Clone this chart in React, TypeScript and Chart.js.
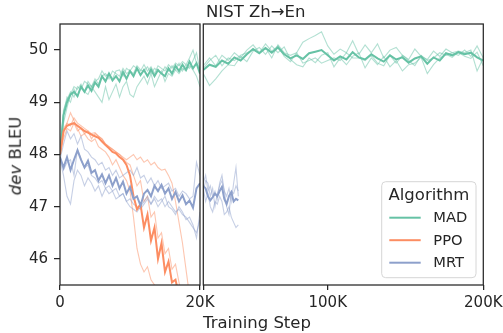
import React, { useEffect, useRef } from 'react';
import { Chart, registerables } from 'chart.js';

Chart.register(...registerables);

const FONT = "'DejaVu Sans', sans-serif";
const INK = '#262626';

// ---------- legend / series ----------
const algorithms = ['MAD', 'PPO', 'MRT'];
const colors = ['#66c2a5', '#fc8d62', '#8da0cb'];

// ---------- axes ----------
const yTicks = [46, 47, 48, 49, 50];
const yTickLabels = ['46', '47', '48', '49', '50'];
const yMin = 45.5;
const yMax = 50.5;
const xTicksLeft = [0, 20000];
const xTickLabelsLeft = ['0', '20K'];
const xTicksRight = [20000, 100000, 200000];
const xTickLabelsRight = ['', '100K', '200K'];

// ---------- steps ----------
const stepsLeft = [0, 500, 1000, 1500, 2000, 2500, 3000, 3500, 4000, 4500, 5000, 5500, 6000, 6500, 7000, 7500, 8000, 8500, 9000, 9500, 10000, 10500, 11000, 11500, 12000, 12500, 13000, 13500, 14000, 14500, 15000, 15500, 16000, 16500, 17000, 17500, 18000, 18500, 19000, 19500, 20000];
const stepsRight = [20000, 24000, 28000, 32000, 36000, 40000, 44000, 48000, 52000, 56000, 60000, 64000, 68000, 72000, 76000, 80000, 84000, 88000, 92000, 96000, 100000, 104000, 108000, 112000, 116000, 120000, 124000, 128000, 132000, 136000, 140000, 144000, 148000, 152000, 156000, 160000, 164000, 168000, 172000, 176000, 180000, 184000, 188000, 192000, 196000, 200000];
const stepsMrtRight = [20000, 21500, 23000, 24500, 26000, 27500, 29000, 30500, 32000, 33500, 35000, 36500, 38000, 39500, 41000, 42500];

// ---------- MAD ----------
const madMeanLeft = [48.0, 48.75, 49.0, 49.15, 49.2, 49.12, 49.3, 49.2, 49.32, 49.22, 49.38, 49.3, 49.5, 49.4, 49.55, 49.42, 49.5, 49.4, 49.58, 49.45, 49.6, 49.5, 49.65, 49.52, 49.62, 49.5, 49.63, 49.5, 49.62, 49.55, 49.5, 49.65, 49.55, 49.7, 49.6, 49.72, 49.62, 49.78, 49.65, 49.75, 49.55];
const madRun1Left = [48.0, 48.6, 48.9, 49.15, 49.3, 49.25, 49.35, 49.2, 49.4, 49.3, 49.45, 49.35, 49.5, 49.55, 49.45, 49.6, 49.55, 49.5, 49.65, 49.55, 49.6, 49.7, 49.65, 49.6, 49.72, 49.6, 49.68, 49.55, 49.7, 49.65, 49.6, 49.72, 49.65, 49.75, 49.7, 49.78, 49.72, 49.85, 50.0, 49.75, 49.65];
const madRun2Left = [48.0, 48.8, 49.1, 49.0, 49.25, 49.1, 49.3, 49.2, 49.15, 49.3, 49.2, 49.1, 49.0, 49.3, 49.05, 49.2, 49.35, 49.1, 49.3, 49.4, 49.15, 49.1, 49.3, 49.4, 49.5, 49.35, 49.55, 49.3, 49.45, 49.6, 49.4, 49.55, 49.5, 49.62, 49.55, 49.65, 49.6, 49.7, 49.62, 49.5, 49.3];
const madRun3Left = [48.0, 48.85, 49.05, 49.2, 49.1, 49.3, 49.25, 49.4, 49.35, 49.3, 49.4, 49.45, 49.6, 49.5, 49.55, 49.45, 49.6, 49.62, 49.5, 49.65, 49.6, 49.55, 49.7, 49.62, 49.6, 49.68, 49.55, 49.65, 49.6, 49.55, 49.68, 49.6, 49.7, 49.62, 49.75, 49.6, 49.72, 49.65, 49.8, 49.95, 49.6];
const madMeanRight = [49.62, 49.72, 49.68, 49.8, 49.74, 49.86, 49.8, 49.92, 50.02, 49.94, 50.04, 49.95, 50.05, 49.92, 49.84, 49.9, 49.83, 49.94, 49.97, 50.0, 49.9, 49.8, 49.88, 49.82, 49.96, 49.86, 49.82, 49.92, 49.84, 49.78, 49.9, 49.82, 49.86, 49.76, 49.84, 49.88, 49.74, 49.86, 49.8, 49.94, 49.9, 49.96, 49.92, 49.95, 49.86, 49.8];
const madRun1Right = [49.7, 49.85, 49.7, 49.9, 49.8, 49.95, 49.85, 50.0, 50.1, 49.95, 50.12, 49.98, 50.08, 49.88, 49.78, 49.95, 50.15, 50.22, 50.28, 50.35, 50.08, 49.92, 50.02, 49.95, 50.18, 49.92, 50.1, 49.95, 50.12, 49.85, 50.0, 50.05, 49.9, 49.82, 50.02, 49.88, 49.82, 49.98, 49.88, 50.02, 49.95, 49.9, 50.0, 49.88, 50.08, 49.85];
const madRun2Right = [49.55, 49.32, 49.45, 49.6, 49.72, 49.7, 49.88, 49.78, 49.98, 50.05, 49.92, 50.08, 49.95, 50.06, 49.82, 49.72, 49.68, 49.85, 49.76, 49.9, 49.95, 49.68, 49.85, 49.72, 49.88, 49.95, 49.66, 49.85, 49.72, 49.88, 49.68, 49.8, 49.6, 49.72, 49.75, 49.86, 49.55, 49.72, 49.85, 49.92, 49.86, 49.96, 49.88, 49.84, 49.96, 49.7];
const madRun3Right = [49.65, 49.8, 49.9, 49.7, 49.85, 49.8, 49.9, 49.95, 50.0, 49.95, 50.05, 49.85, 50.1, 49.95, 49.9, 49.95, 49.75, 49.8, 49.85, 49.75, 49.8, 49.85, 49.8, 49.95, 49.85, 49.85, 49.8, 49.9, 49.75, 49.7, 49.9, 49.75, 49.9, 49.8, 49.7, 49.9, 49.8, 49.85, 49.95, 49.9, 49.95, 49.98, 49.95, 50.0, 49.6, 49.85];

// ---------- PPO (runs end below the visible range) ----------
const ppoMeanLeft = [48.0, 48.45, 48.55, 48.58, 48.6, 48.55, 48.5, 48.45, 48.42, 48.38, 48.35, 48.32, 48.25, 48.18, 48.12, 48.05, 48.02, 47.95, 47.9, 47.8, 47.6, 47.2, 46.95, 47.05, 46.6, 46.85, 46.35, 46.6, 46.0, 46.3, 45.75, 45.95, 45.55, 45.6, 45.3, 45.0];
const ppoRun1Left = [48.0, 48.4, 48.6, 48.8, 48.65, 48.5, 48.35, 48.4, 48.3, 48.25, 48.3, 48.15, 48.1, 48.05, 47.95, 47.8, 47.9, 47.75, 47.6, 47.5, 47.3, 46.8, 46.2, 45.9, 45.75, 45.85, 45.6, 45.5, 45.2];
const ppoRun2Left = [48.0, 48.5, 48.6, 48.55, 48.7, 48.6, 48.55, 48.5, 48.45, 48.4, 48.42, 48.35, 48.3, 48.2, 48.15, 48.1, 48.05, 48.0, 47.92, 47.85, 47.8, 47.6, 47.4, 47.5, 47.1, 47.2, 46.8, 46.9, 46.4, 46.5, 46.1, 46.2, 45.8, 45.9, 45.55, 45.2];
const ppoRun3Left = [48.0, 48.3, 48.5, 48.45, 48.6, 48.45, 48.5, 48.4, 48.45, 48.3, 48.4, 48.35, 48.3, 48.2, 48.15, 48.1, 48.05, 48.0, 47.95, 47.9, 47.95, 48.0, 47.9, 47.95, 47.85, 47.9, 47.8, 47.85, 47.75, 47.7, 47.72, 47.6, 47.45, 47.1, 46.7, 46.3, 45.8, 45.3];

// ---------- MRT ----------
const mrtMeanLeft = [47.95, 47.75, 47.95, 47.7, 47.9, 48.08, 47.9, 47.75, 47.88, 47.65, 47.7, 47.5, 47.62, 47.45, 47.6, 47.4, 47.55, 47.35, 47.48, 47.25, 47.38, 47.15, 47.2, 47.02, 47.25, 47.32, 47.2, 47.4, 47.3, 47.42, 47.25, 47.35, 47.15, 47.28, 47.1, 47.22, 47.05, 47.12, 46.98, 47.35, 47.45];
const mrtRun1Left = [47.9, 47.6, 47.2, 47.05, 47.5, 47.7, 47.6, 47.4, 47.55, 47.45, 47.3, 47.4, 47.2, 47.35, 47.25, 47.3, 47.15, 47.2, 47.25, 47.1, 47.0, 46.95, 46.9, 47.0, 47.1, 47.2, 47.05, 47.15, 47.0, 47.1, 47.2, 47.0, 46.95, 46.85, 47.0, 46.9, 46.75, 46.8, 46.65, 46.4, 46.9];
const mrtRun2Left = [47.9, 48.2, 48.45, 48.3, 48.4, 48.2, 48.35, 48.1, 48.05, 47.95, 47.9, 47.8, 47.85, 47.7, 47.75, 47.6, 47.7, 47.55, 47.6, 47.65, 47.7, 47.6, 47.75, 47.55, 47.6, 47.45, 47.55, 47.4, 47.5, 47.35, 47.4, 47.45, 47.3, 47.35, 47.2, 47.3, 47.25, 47.15, 47.2, 47.85, 47.6];
const mrtRun3Left = [47.95, 47.7, 47.85, 47.9, 47.6, 48.1, 47.9, 47.75, 47.8, 47.6, 47.55, 47.45, 47.5, 47.35, 47.4, 47.3, 47.35, 47.2, 47.25, 47.1, 47.15, 47.05, 47.0, 46.95, 47.05, 47.15, 47.05, 47.2, 47.1, 47.15, 47.0, 47.1, 47.0, 46.9, 46.95, 46.85, 46.8, 46.7, 46.6, 46.5, 46.75];
const mrtMeanRight = [47.4, 47.35, 47.2, 47.12, 47.18, 47.25, 47.2, 47.3, 47.38, 47.15, 47.05, 47.2, 47.28, 47.1, 47.15, 47.12];
const mrtRun1Right = [47.3, 47.5, 47.45, 47.2, 47.35, 47.0, 47.25, 47.4, 47.5, 47.3, 47.2, 47.35, 47.1, 47.45, 47.75, 47.2];
const mrtRun2Right = [47.35, 47.1, 47.25, 47.0, 46.9, 47.1, 47.05, 47.2, 47.1, 46.85, 46.9, 47.0, 46.8, 46.7, 46.6, 46.65];
const mrtRun3Right = [47.45, 47.6, 47.3, 47.4, 47.2, 47.3, 47.15, 47.45, 47.6, 47.3, 47.0, 46.85, 47.3, 47.25, 47.4, 47.3];

// ---------- helpers ----------
function zip(steps: number[], vals: number[]) {
  const out: { x: number; y: number }[] = [];
  for (let i = 0; i < vals.length; i++) out.push({ x: steps[i], y: vals[i] });
  return out;
}

function withAlpha(hex: string, a: number) {
  const r = parseInt(hex.slice(1, 3), 16);
  const g = parseInt(hex.slice(3, 5), 16);
  const b = parseInt(hex.slice(5, 7), 16);
  return `rgba(${r},${g},${b},${a})`;
}

function meanDs(k: number, steps: number[], vals: number[], order: number) {
  return {
    label: algorithms[k],
    data: zip(steps, vals),
    borderColor: colors[k],
    borderWidth: 2,
    pointRadius: 0,
    tension: 0,
    fill: false,
    clip: 0,
    order,
  };
}

function runDs(k: number, steps: number[], vals: number[], order: number) {
  return {
    label: algorithms[k] + ' run',
    data: zip(steps, vals),
    borderColor: withAlpha(colors[k], 0.5),
    borderWidth: 1.1,
    pointRadius: 0,
    tension: 0,
    fill: false,
    clip: 0,
    order,
  };
}

const framePlugin = {
  id: 'frame',
  afterDatasetsDraw(chart: any) {
    const { ctx, chartArea: a } = chart;
    ctx.save();
    ctx.strokeStyle = INK;
    ctx.lineWidth = 1.25;
    ctx.strokeRect(a.left, a.top, a.right - a.left, a.bottom - a.top);
    ctx.restore();
  },
};

const legendPlugin = {
  id: 'boxLegend',
  afterDraw(chart: any) {
    const { ctx, chartArea: a } = chart;
    const w = 94.3;
    const h = 96;
    const x0 = a.right - 7.3 - w;
    const y0 = a.bottom - 7.3 - h;
    const r = 4;
    ctx.save();
    ctx.beginPath();
    ctx.moveTo(x0 + r, y0);
    ctx.lineTo(x0 + w - r, y0);
    ctx.quadraticCurveTo(x0 + w, y0, x0 + w, y0 + r);
    ctx.lineTo(x0 + w, y0 + h - r);
    ctx.quadraticCurveTo(x0 + w, y0 + h, x0 + w - r, y0 + h);
    ctx.lineTo(x0 + r, y0 + h);
    ctx.quadraticCurveTo(x0, y0 + h, x0, y0 + h - r);
    ctx.lineTo(x0, y0 + r);
    ctx.quadraticCurveTo(x0, y0, x0 + r, y0);
    ctx.closePath();
    ctx.fillStyle = 'rgba(255,255,255,0.85)';
    ctx.fill();
    ctx.strokeStyle = '#d6d6d6';
    ctx.lineWidth = 1;
    ctx.stroke();

    ctx.fillStyle = INK;
    ctx.textBaseline = 'middle';
    ctx.textAlign = 'center';
    ctx.font = `16.5px ${FONT}`;
    ctx.fillText('Algorithm', x0 + w / 2, y0 + 14);

    ctx.textAlign = 'left';
    ctx.font = `14.7px ${FONT}`;
    for (let i = 0; i < algorithms.length; i++) {
      const y = y0 + 36 + i * 22.5;
      ctx.strokeStyle = colors[i];
      ctx.lineWidth = 2;
      ctx.beginPath();
      ctx.moveTo(x0 + 7.6, y);
      ctx.lineTo(x0 + 39, y);
      ctx.stroke();
      ctx.fillStyle = INK;
      ctx.fillText(algorithms[i], x0 + 51.6, y + 0.5);
    }
    ctx.restore();
  },
};

function xScale(min: number, max: number, ticks: number[], labels: string[]) {
  return {
    type: 'linear',
    min,
    max,
    afterBuildTicks: (s: any) => {
      s.ticks = ticks.map((v) => ({ value: v }));
    },
    afterFit: (s: any) => {
      s.height = 48;
    },
    ticks: {
      autoSkip: false,
      maxRotation: 0,
      minRotation: 0,
      padding: 4,
      color: INK,
      font: { family: FONT, size: 15 },
      callback: (_v: any, i: number) => labels[i],
    },
    grid: { display: true, drawOnChartArea: false, drawTicks: true, tickLength: 5, color: INK, lineWidth: 1.25 },
    border: { display: false },
  };
}

function yScale(show: boolean) {
  const s: any = {
    type: 'linear',
    min: yMin,
    max: yMax,
    display: show,
    afterBuildTicks: (sc: any) => {
      sc.ticks = yTicks.map((v) => ({ value: v }));
    },
    ticks: {
      padding: 6,
      color: INK,
      font: { family: FONT, size: 15 },
      callback: (_v: any, i: number) => yTickLabels[i],
    },
    grid: { display: true, drawOnChartArea: false, drawTicks: true, tickLength: 6, color: INK, lineWidth: 1.25 },
    border: { display: false },
  };
  if (show) {
    s.afterFit = (sc: any) => {
      sc.width = 60;
    };
  }
  return s;
}

export default function App() {
  const leftRef = useRef<HTMLCanvasElement>(null);
  const rightRef = useRef<HTMLCanvasElement>(null);

  useEffect(() => {
    document.body.style.margin = '0';
    const left = new Chart(leftRef.current as HTMLCanvasElement, {
      type: 'line',
      data: {
        datasets: [
          meanDs(2, stepsLeft, mrtMeanLeft, 0),
          meanDs(1, stepsLeft, ppoMeanLeft, 1),
          meanDs(0, stepsLeft, madMeanLeft, 2),
          runDs(2, stepsLeft, mrtRun1Left, 3),
          runDs(2, stepsLeft, mrtRun2Left, 3),
          runDs(2, stepsLeft, mrtRun3Left, 3),
          runDs(1, stepsLeft, ppoRun1Left, 4),
          runDs(1, stepsLeft, ppoRun2Left, 4),
          runDs(1, stepsLeft, ppoRun3Left, 4),
          runDs(0, stepsLeft, madRun1Left, 5),
          runDs(0, stepsLeft, madRun2Left, 5),
          runDs(0, stepsLeft, madRun3Left, 5),
        ] as any,
      },
      options: {
        responsive: false,
        animation: false,
        events: [],
        layout: { padding: { left: 0, right: 40, top: 24, bottom: 0 } },
        plugins: { legend: { display: false }, tooltip: { enabled: false }, title: { display: false } },
        scales: {
          x: xScale(0, 20000, xTicksLeft, xTickLabelsLeft) as any,
          y: yScale(true) as any,
        },
      },
      plugins: [framePlugin],
    });

    const right = new Chart(rightRef.current as HTMLCanvasElement, {
      type: 'line',
      data: {
        datasets: [
          meanDs(2, stepsMrtRight, mrtMeanRight, 0),
          meanDs(0, stepsRight, madMeanRight, 2),
          runDs(2, stepsMrtRight, mrtRun1Right, 3),
          runDs(2, stepsMrtRight, mrtRun2Right, 3),
          runDs(2, stepsMrtRight, mrtRun3Right, 3),
          runDs(0, stepsRight, madRun1Right, 5),
          runDs(0, stepsRight, madRun2Right, 5),
          runDs(0, stepsRight, madRun3Right, 5),
        ] as any,
      },
      options: {
        responsive: false,
        animation: false,
        events: [],
        layout: { padding: { left: 53.3, right: 46.7, top: 24, bottom: 0 } },
        plugins: { legend: { display: false }, tooltip: { enabled: false }, title: { display: false } },
        scales: {
          x: xScale(20000, 200000, xTicksRight, xTickLabelsRight) as any,
          y: yScale(false) as any,
        },
      },
      plugins: [framePlugin, legendPlugin],
    });

    return () => {
      left.destroy();
      right.destroy();
    };
  }, []);

  const text: React.CSSProperties = {
    position: 'absolute',
    fontFamily: FONT,
    color: INK,
    fontSize: '16.5px',
    lineHeight: 1,
    whiteSpace: 'nowrap',
  };

  return (
    <div
      style={{
        position: 'fixed',
        left: 0,
        top: 0,
        width: 503,
        height: 333,
        overflow: 'hidden',
        background: '#ffffff',
      }}
    >
      <canvas ref={leftRef} width={240} height={333} style={{ position: 'absolute', left: 0, top: 0, width: 240, height: 333 }} />
      <canvas ref={rightRef} width={380} height={333} style={{ position: 'absolute', left: 150, top: 0, width: 380, height: 333 }} />
      <div style={{ ...text, left: 255.7, top: 11.7, transform: 'translate(-50%, -50%)' }}>NIST Zh→En</div>
      <div style={{ ...text, left: 257, top: 322.5, transform: 'translate(-50%, -50%)' }}>Training Step</div>
      <div style={{ ...text, left: 16.3, top: 155.8, transform: 'translate(-50%, -50%) rotate(-90deg)' }}>
        <i>dev</i> BLEU
      </div>
    </div>
  );
}
